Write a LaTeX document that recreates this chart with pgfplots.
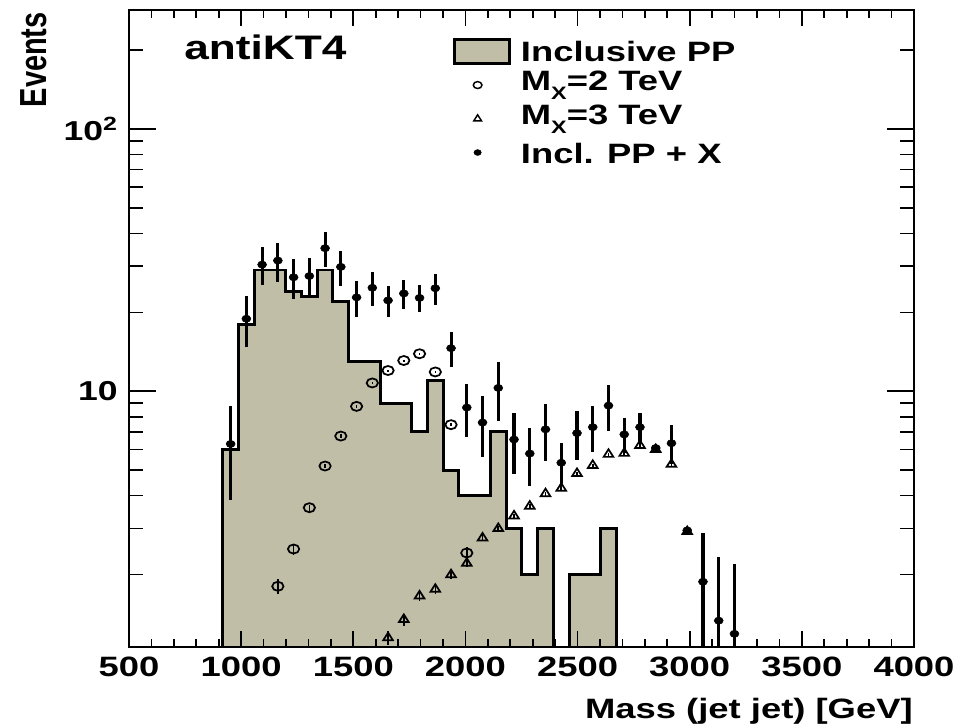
\documentclass[border=0pt]{standalone}
\usepackage{fontspec}
\setmainfont{Liberation Sans}[FakeStretch=1.3]
\usepackage{pgfplots}
\pgfplotsset{compat=1.18}
\definecolor{histfill}{RGB}{193,190,168}
\begin{document}
\begin{tikzpicture}
\begin{axis}[
  at={(0,0)}, anchor=south west,
  scale only axis, width=588.75pt, height=477.75pt,
  xmin=500, xmax=4000, ymode=log, ymin=1.06, ymax=284,
  axis on top,
  axis line style={line width=1.8pt},
  xtick=\empty,
  ytick={10,100}, yticklabels={10,10\textsuperscript{2}},
  minor ytick={2,3,4,5,6,7,8,9,20,30,40,50,60,70,80,90,200},
  major tick length=20pt, minor tick length=10.75pt,
  tick style={black, line width=1.2pt},
  yticklabel style={font=\bfseries\fontsize{20.5}{21}\selectfont, anchor=east, inner sep=0pt, xshift=-8.25pt},
  legend cell align=left,
  legend style={draw=none, fill=none, at={(0.4127,0.9571)}, anchor=north west,
    inner sep=0pt, outer sep=0pt, row sep=4.3pt, /tikz/column sep=7.7pt,
    font=\bfseries\fontsize{21}{21}\selectfont,
    nodes={inner sep=0pt, text height=18.5pt, text depth=2.5pt}},
]
% Inclusive PP histogram (bin edges, content)
\addplot[const plot, fill=histfill, draw=black, line width=2.2pt,
  legend image code/.code={\draw[fill=histfill, draw=black, line width=2pt] (0pt,-9pt) rectangle (41.25pt,9pt);}]
coordinates {
(918,0.5) (918,6) (988.2,18) (1058.4,29) (1128.6,29) (1198.8,24) (1269,23)
(1339.2,29) (1409.4,22) (1479.6,13) (1549.8,13) (1620,9) (1690.2,9)
(1760.4,7) (1830.6,11) (1900.8,5) (1971,4) (2041.2,4) (2111.4,7)
(2181.6,3) (2251.8,2) (2322,3) (2392.2,0.5) (2462.4,2) (2532.6,2)
(2602.8,3) (2673,0.5) (2743.2,0.5) (2813.4,0.5) (2883.6,1) (2953.8,0.5)
(3024,1) (3094.2,1) (3164.4,1) (3234.6,0.5)
};
\addlegendentry{Inclusive PP}
% M_X = 2 TeV
\addplot[only marks, mark=o, mark size=3.4pt, mark options={xscale=1.25, line width=1.3pt, black},
  legend image code/.code={\draw[black, line width=1.1pt] plot[mark=o, mark size=2.6pt, mark options={xscale=1.25}] coordinates {(17.5pt,0pt)};},
  error bars/.cd, y dir=both, y explicit, error mark=none, error bar style={line width=1.2pt, black}]
coordinates {
(1163.7,1.806) +- (0,0.12)
(1233.9,2.505) +- (0,0.12)
(1304.1,3.60) +- (0,0.1)
(1374.3,5.19) +- (0,0.1)
(1444.5,6.75) +- (0,0.1)
(1514.7,8.76) +- (0,0.1)
(1584.9,10.76) +- (0,0.1)
(1655.1,12.0) +- (0,0.1)
(1725.3,13.1) +- (0,0.1)
(1795.5,13.9) +- (0,0.1)
(1865.7,11.85) +- (0,0.1)
(1935.9,7.46) +- (0,0.1)
(2006.1,2.42) +- (0,0.12)
};
\addlegendentry{\raisebox{3.8pt}{M\raisebox{-6.5pt}{\fontsize{13.5}{14}\selectfont X}=2 TeV}}
% M_X = 3 TeV
\addplot[only marks, mark=triangle, mark size=3.8pt, mark options={xscale=1.1, line width=1.3pt, black},
  legend image code/.code={\draw[black, line width=1.1pt] plot[mark=triangle, mark size=3pt, mark options={xscale=1.1}] coordinates {(17.5pt,0pt)};},
  error bars/.cd, y dir=both, y explicit, error mark=none, error bar style={line width=1.2pt, black}]
coordinates {
(1655.1,1.15) +- (0,0.07)
(1725.3,1.35) +- (0,0.07)
(1795.5,1.66) +- (0,0.07)
(1865.7,1.76) +- (0,0.07)
(1935.9,2.0) +- (0,0.07)
(2006.1,2.21) +- (0,0.07)
(2076.3,2.76) +- (0,0.07)
(2146.5,3.0) +- (0,0.07)
(2216.7,3.35) +- (0,0.07)
(2286.9,3.65) +- (0,0.07)
(2357.1,4.07) +- (0,0.07)
(2427.3,4.27) +- (0,0.07)
(2497.5,4.86) +- (0,0.07)
(2567.7,5.22) +- (0,0.07)
(2637.9,5.75) +- (0,0.07)
(2708.1,5.8) +- (0,0.07)
(2778.3,6.22) +- (0,0.07)
(2848.5,6.0) +- (0,0.07)
(2918.7,5.27) +- (0,0.07)
(2988.9,2.92) +- (0,0.07)
};
\addlegendentry{\raisebox{3.8pt}{M\raisebox{-6.5pt}{\fontsize{13.5}{14}\selectfont X}=3 TeV}}
% Incl. PP + X
\addplot[only marks, mark=*, mark size=2.7pt, mark options={xscale=1.25, black},
  legend image code/.code={\draw[black] plot[mark=*, mark size=2.2pt, mark options={xscale=1.25}] coordinates {(17.5pt,0pt)};},
  error bars/.cd, y dir=both, y explicit, error mark=none, error bar style={line width=2.3pt, black}]
coordinates {
(953.1,6.3) +- (0,2.45)
(1023.3,18.9) +- (0,4.15)
(1093.5,30.4) +- (0,5.0)
(1163.7,31.5) +- (0,5.3)
(1233.9,27.2) +- (0,4.8)
(1304.1,27.5) +- (0,4.8)
(1374.3,35.1) +- (0,5.4)
(1444.5,29.8) +- (0,4.6)
(1514.7,22.8) +- (0,3.6)
(1584.9,24.8) +- (0,3.7)
(1655.1,22.2) +- (0,3.0)
(1725.3,23.6) +- (0,3.0)
(1795.5,22.7) +- (0,2.7)
(1865.7,24.7) +- (0,3.3)
(1935.9,14.6) +- (0,2.25)
(2006.1,8.67) +- (0,2.0)
(2076.3,7.6) +- (0,2.0)
(2146.5,10.3) +- (0,2.6)
(2216.7,6.55) +- (0,1.7)
(2286.9,5.79) +- (0,1.45)
(2357.1,7.16) +- (0,1.75)
(2427.3,5.34) +- (0,1.0)
(2497.5,6.93) +- (0,1.45)
(2567.7,7.3) +- (0,1.45)
(2637.9,8.82) +- (0,1.75)
(2708.1,6.85) +- (0,1.05)
(2778.3,7.3) +- (0,1.0)
(2848.5,6.08) +- (0,0.1)
(2918.7,6.34) +- (0,1.07)
(2988.9,2.95) +- (0,0.1)
(3059.1,1.88) +- (0,1.0)
(3129.3,1.336) +- (0,1.0)
(3199.5,1.19) +- (0,1.0)
};
\addlegendentry{Incl. PP + X}
\end{axis}
\begin{axis}[
  at={(0,0)}, anchor=south west,
  scale only axis, width=588.75pt, height=477.75pt,
  xmin=500, xmax=4000, ymin=0, ymax=1,
  axis line style={line width=1.8pt},
  ytick=\empty,
  xtick={500,1000,...,4000},
  xticklabels={500,1000,1500,2000,2500,3000,3500,4000},
  minor x tick num=4,
  major tick length=12pt, minor tick length=6pt,
  tick style={black, line width=1.2pt},
  xticklabel style={font=\bfseries\fontsize{21}{22}\selectfont, anchor=base, inner sep=0pt, yshift=-22.3pt},
]
\addplot[draw=none] coordinates {(500,0)};
\end{axis}
\node[anchor=base west, inner sep=0pt, font=\bfseries\fontsize{25.5}{26}\selectfont] at (41.25pt,440.25pt) {antiKT4};
\node[rotate=90, anchor=south east, inner sep=0pt, font=\bfseries\fontsize{21.75}{22}\selectfont] at (-61.7pt,476.25pt) {\scalebox{0.769}[1.3]{Events}};
\node[anchor=base east, inner sep=0pt, font=\bfseries\fontsize{21}{22}\selectfont] at (588pt,-53.5pt) {Mass (jet jet) [GeV]};
\pgfresetboundingbox
\path[use as bounding box] (-96.75pt,-60.75pt) rectangle (621pt,485.25pt);
\end{tikzpicture}
\end{document}
